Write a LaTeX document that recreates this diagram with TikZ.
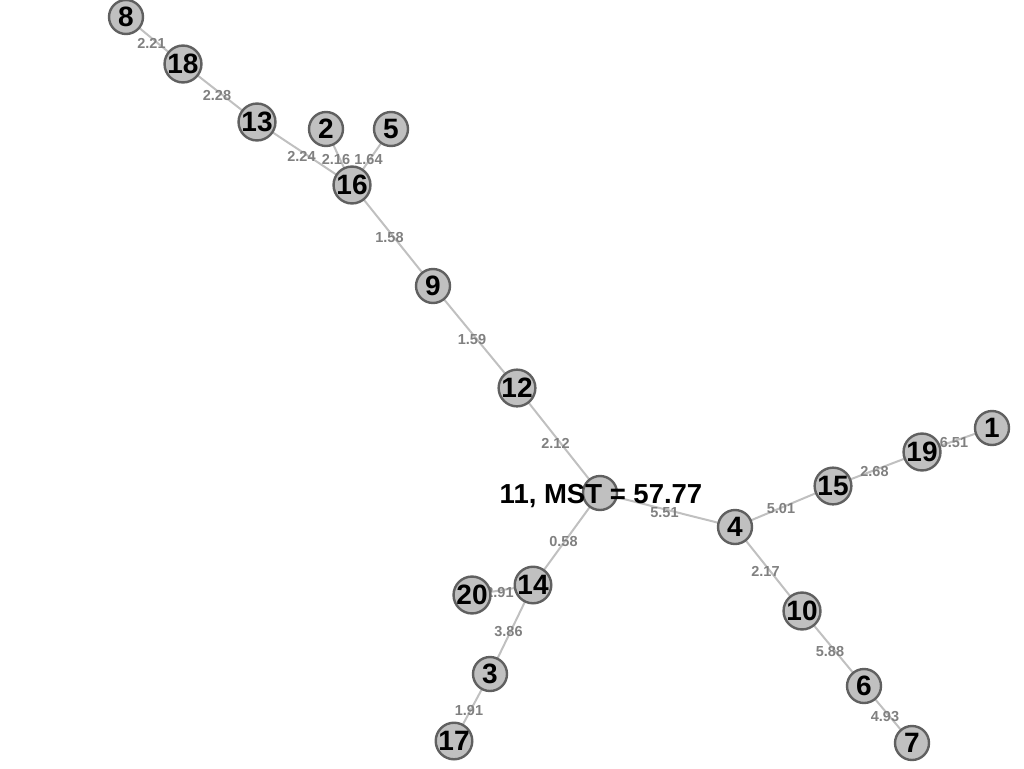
\documentclass[tikz,border=0pt]{standalone}
\usepackage{fontspec}
\setmainfont{Liberation Sans}
\usepackage{tikz}
\usetikzlibrary{backgrounds}
\definecolor{mst_fill}{RGB}{192, 192, 192}
\definecolor{mst_rim}{RGB}{96, 96, 96}
\definecolor{mst_edge}{RGB}{192, 192, 192}
\definecolor{mst_lab}{RGB}{128, 128, 128}
\tikzstyle{vn}=[circle,fill=mst_fill,draw=mst_rim,line width=2.4pt,
  inner sep=0pt,minimum size=34pt,font=\fontsize{28}{28}\selectfont\bfseries]
\tikzstyle{el}=[inner sep=0pt,xshift=-3pt,yshift=-2.5pt,text=mst_lab,
  font=\fontsize{14.5}{15}\selectfont\bfseries]
\tikzstyle{ed}=[draw=mst_edge,line width=2pt]

\begin{document}
\begin{tikzpicture}[x=1pt,y=-1pt]
    \useasboundingbox (0,0) rectangle (1024,768);
    \node [style=vn] (n8) at (126,17) {8};
    \node [style=vn] (n18) at (183,64) {18};
    \node [style=vn] (n13) at (257,122) {13};
    \node [style=vn] (n2) at (326,129) {2};
    \node [style=vn] (n5) at (391,129) {5};
    \node [style=vn] (n16) at (352,185) {16};
    \node [style=vn] (n9) at (433,286) {9};
    \node [style=vn] (n12) at (517,388) {12};
    \node [style=vn] (n11) at (600,493) {};
    \node [style=vn] (n4) at (735,527) {4};
    \node [style=vn] (n15) at (833,486) {15};
    \node [style=vn] (n19) at (922,452) {19};
    \node [style=vn] (n1) at (992,428) {1};
    \node [style=vn] (n10) at (802,611) {10};
    \node [style=vn] (n6) at (864,686) {6};
    \node [style=vn] (n7) at (912,743) {7};
    \node [style=vn] (n14) at (533,585) {14};
    \node [style=vn] (n20) at (472,595) {20};
    \node [style=vn] (n3) at (490,674) {3};
    \node [style=vn] (n17) at (454,741) {17};
    \begin{scope}[on background layer]
    \draw [style=ed] (n8.center) to node[el] {2.21} (n18.center);
    \draw [style=ed] (n18.center) to node[el] {2.28} (n13.center);
    \draw [style=ed] (n13.center) to node[el] {2.24} (n16.center);
    \draw [style=ed] (n2.center) to node[el] {2.16} (n16.center);
    \draw [style=ed] (n5.center) to node[el] {1.64} (n16.center);
    \draw [style=ed] (n16.center) to node[el] {1.58} (n9.center);
    \draw [style=ed] (n9.center) to node[el] {1.59} (n12.center);
    \draw [style=ed] (n12.center) to node[el] {2.12} (n11.center);
    \draw [style=ed] (n11.center) to node[el] {5.51} (n4.center);
    \draw [style=ed] (n4.center) to node[el] {5.01} (n15.center);
    \draw [style=ed] (n15.center) to node[el] {2.68} (n19.center);
    \draw [style=ed] (n19.center) to node[el] {6.51} (n1.center);
    \draw [style=ed] (n4.center) to node[el] {2.17} (n10.center);
    \draw [style=ed] (n10.center) to node[el] {5.88} (n6.center);
    \draw [style=ed] (n6.center) to node[el] {4.93} (n7.center);
    \draw [style=ed] (n11.center) to node[el] {0.58} (n14.center);
    \draw [style=ed] (n14.center) to node[el] {2.91} (n20.center);
    \draw [style=ed] (n14.center) to node[el] {3.86} (n3.center);
    \draw [style=ed] (n3.center) to node[el] {1.91} (n17.center);
    \end{scope}
    \node [font=\fontsize{27.5}{28}\selectfont\bfseries] (title) at (601,496) {11, MST = 57.77};
  \end{tikzpicture}
\end{document}
